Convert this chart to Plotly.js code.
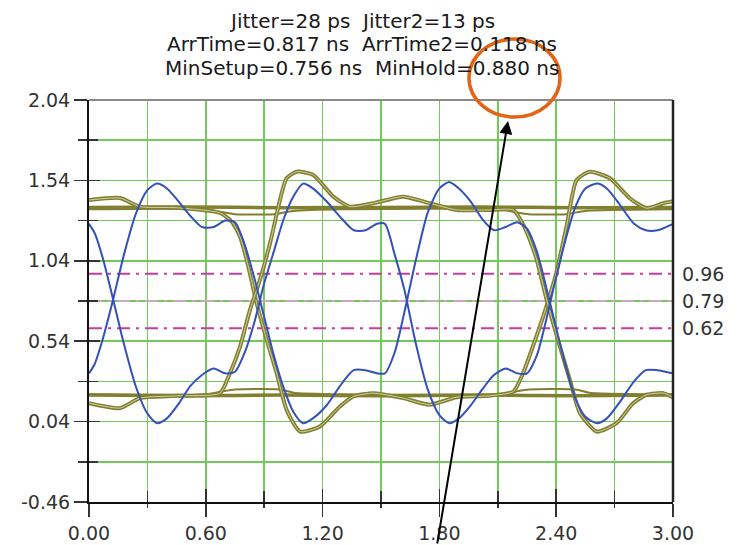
<!DOCTYPE html>
<html>
<head>
<meta charset="utf-8">
<script src="https://cdn.plot.ly/plotly-3.0.1.min.js"></script>
<style>html,body{margin:0;padding:0;background:#fff;}#chart{width:738px;height:545px;}</style>
</head>
<body>
<div id="chart"></div>
<script>
// ---------- data ----------
var titleLines = ['Jitter=28 ps \u00a0Jitter2=13 ps',
                  'ArrTime=0.817 ns \u00a0ArrTime2=0.118 ns',
                  'MinSetup=0.756 ns \u00a0MinHold=0.880 ns'];

var xTickVals = [0, 0.6, 1.2, 1.8, 2.4, 3.0];
var xTickText = ['0.00', '0.60', '1.20', '1.80', '2.40', '3.00'];
var yTickVals = [-0.46, 0.04, 0.54, 1.04, 1.54, 2.04];
var yTickText = ['-0.46', '0.04', '0.54', '1.04', '1.54', '2.04'];

var levels = [0.96, 0.79, 0.62];
var levelText = ['0.96', '0.79', '0.62'];

var blueX = [0, 0.03, 0.07, 0.12, 0.18, 0.24, 0.30, 0.35, 0.40, 0.46,
             0.52, 0.58, 0.64, 0.70, 0.75, 0.80, 0.85, 0.90, 0.95, 1.00,
             1.05, 1.10, 1.15, 1.22, 1.30, 1.36, 1.42, 1.48, 1.52, 1.57,
             1.62, 1.68, 1.74, 1.80, 1.85, 1.90, 1.96, 2.02, 2.08, 2.14,
             2.20, 2.25, 2.30, 2.35, 2.40, 2.45, 2.50, 2.55, 2.61, 2.66,
             2.72, 2.80, 2.86, 2.92, 3.00];
var blueA = [1.27, 1.21, 1.06, 0.82, 0.52, 0.26, 0.09, 0.03, 0.06, 0.15,
             0.26, 0.33, 0.37, 0.34, 0.35, 0.47, 0.66, 0.90, 1.10, 1.30,
             1.44, 1.52, 1.49, 1.41, 1.30, 1.23, 1.23, 1.27, 1.27, 1.08,
             0.86, 0.52, 0.24, 0.08, 0.03, 0.06, 0.14, 0.24, 0.33, 0.37,
             0.34, 0.34, 0.45, 0.68, 0.94, 1.18, 1.38, 1.49, 1.52, 1.49,
             1.40, 1.27, 1.23, 1.23, 1.27];
var blueB = [0.34, 0.40, 0.55, 0.78, 1.08, 1.33, 1.48, 1.52, 1.49, 1.41,
             1.32, 1.25, 1.25, 1.29, 1.28, 1.14, 0.93, 0.69, 0.45, 0.25,
             0.10, 0.03, 0.06, 0.14, 0.28, 0.36, 0.36, 0.34, 0.34, 0.47,
             0.72, 1.05, 1.34, 1.49, 1.53, 1.49, 1.41, 1.30, 1.23, 1.25,
             1.28, 1.24, 1.10, 0.87, 0.62, 0.38, 0.18, 0.07, 0.03, 0.06,
             0.15, 0.29, 0.36, 0.36, 0.34];

var olivePX = [0, 0.16, 0.26, 0.45, 0.673, 0.733, 0.776, 0.81, 0.861, 0.913,
               0.964, 1.015, 1.084, 1.186, 1.289, 1.358, 1.46, 1.614, 1.75, 1.889,
               2.05, 2.18, 2.23, 2.28, 2.333, 2.40, 2.453, 2.505, 2.573, 2.676,
               2.778, 2.864, 2.95, 3.0];
var olivePY = [1.418, 1.43, 1.377, 1.37, 1.338, 1.284, 1.19, 1.046, 0.778, 0.548,
               0.341, 0.113, -0.022, 0.01, 0.134, 0.196, 0.217, 0.186, 0.145, 0.192,
               0.20, 0.227, 0.341, 0.507, 0.693, 0.963, 1.253, 1.543, 1.594, 1.553,
               1.429, 1.367, 1.398, 1.41];

var oliveQX = [0, 0.16, 0.262, 0.45, 0.673, 0.724, 0.776, 0.827, 0.878, 0.93,
               0.981, 1.015, 1.067, 1.152, 1.255, 1.34, 1.46, 1.614, 1.75, 1.889,
               2.05, 2.18, 2.222, 2.265, 2.30, 2.351, 2.419, 2.47, 2.522, 2.608,
               2.71, 2.796, 2.864, 2.95, 3.0];
var oliveQY = [0.155, 0.124, 0.186, 0.20, 0.217, 0.341, 0.507, 0.735, 0.921, 1.149,
               1.418, 1.553, 1.594, 1.574, 1.439, 1.377, 1.398, 1.439, 1.398, 1.356,
               1.356, 1.356, 1.284, 1.17, 1.046, 0.797, 0.507, 0.30, 0.093, -0.022,
               0.03, 0.155, 0.207, 0.217, 0.19];

var oliveTopX = [0, 0.5, 1.0, 1.5, 2.0, 2.5, 3.0];
var oliveTopY = [1.372, 1.375, 1.37, 1.372, 1.375, 1.37, 1.372];
var oliveTop2X = [0, 0.6, 0.673, 0.75, 0.95, 1.05, 1.3, 2.1, 2.18, 2.26, 2.45, 2.55, 3.0];
var oliveTop2Y = [1.36, 1.36, 1.345, 1.33, 1.33, 1.35, 1.36, 1.36, 1.345, 1.33, 1.33, 1.35, 1.36];
var oliveBotX = [0, 0.5, 1.0, 1.5, 2.0, 2.5, 3.0];
var oliveBotY = [0.205, 0.20, 0.205, 0.20, 0.205, 0.20, 0.205];
var oliveBot2X = [0, 0.6, 0.673, 0.75, 0.98, 1.05, 1.3, 2.1, 2.18, 2.26, 2.5, 2.57, 3.0];
var oliveBot2Y = [0.21, 0.21, 0.225, 0.24, 0.24, 0.22, 0.21, 0.21, 0.225, 0.24, 0.24, 0.22, 0.21];

var xRange = [0, 3];
var yRange = [-0.46, 2.04];

// ---------- styling ----------
var FONT = 'DejaVu Sans, Liberation Sans, Arial, sans-serif';
var GRID = 'rgb(115,202,90)';
var OLIVE = 'rgb(128,128,48)';
var BLUE = 'rgb(52,80,185)';
var TICKC = '#333333';

var traces = [];
levels.forEach(function (v, i) {
  traces.push({
    x: [xRange[0], xRange[1]], y: [v, v], mode: 'lines', hoverinfo: 'skip',
    line: {color: i === 1 ? 'rgb(230,160,215)' : 'rgb(200,60,160)', width: i === 1 ? 1.6 : 2,
           dash: '13px,6px,3px,6px'},
    showlegend: false
  });
});
function olive(x, y, w, hollow) {
  traces.push({x: x, y: y, mode: 'lines', line: {color: OLIVE, width: w, shape: 'spline', smoothing: 0.6},
               showlegend: false, hoverinfo: 'skip'});
  if (hollow) {
    traces.push({x: x, y: y, mode: 'lines', line: {color: 'rgba(235,235,200,0.75)', width: 1, shape: 'spline', smoothing: 0.6},
                 showlegend: false, hoverinfo: 'skip'});
  }
}
olive(oliveTopX, oliveTopY, 3.5, false);
olive(oliveTop2X, oliveTop2Y, 2, false);
olive(oliveBotX, oliveBotY, 3.5, false);
olive(oliveBot2X, oliveBot2Y, 2, false);
olive(olivePX, olivePY, 4, true);
olive(oliveQX, oliveQY, 4, true);
traces.push({x: blueX, y: blueA, mode: 'lines', line: {color: BLUE, width: 2, shape: 'spline', smoothing: 0.7}, showlegend: false, hoverinfo: 'skip'});
traces.push({x: blueX, y: blueB, mode: 'lines', line: {color: BLUE, width: 2, shape: 'spline', smoothing: 0.7}, showlegend: false, hoverinfo: 'skip'});
traces.push({x: [null], y: [null], xaxis: 'x2', yaxis: 'y2', mode: 'lines', showlegend: false, hoverinfo: 'skip'});

var L = 89, R = 65, T = 100, B = 43;
var W = 738, H = 545;
var pw = W - L - R, ph = H - T - B;
function px2paperX(p) { return (p - L) / pw; }
function py2paperY(p) { return (H - B - p) / ph; }

var annotations = [];
var titleY = [20.5, 44, 68];
titleLines.forEach(function (t, i) {
  annotations.push({text: t, xref: 'paper', yref: 'paper', x: px2paperX(362), y: py2paperY(titleY[i]),
    xanchor: 'center', yanchor: 'middle', showarrow: false, font: {family: FONT, size: 20, color: '#1a1a1a'}});
});
levels.forEach(function (v, i) {
  annotations.push({text: levelText[i], xref: 'paper', yref: 'y', x: 1, y: v, xanchor: 'left', yanchor: 'middle',
    xshift: 7, showarrow: false, font: {family: FONT, size: 19, color: TICKC}});
});
annotations.push({text: '', xref: 'paper', yref: 'paper', x: px2paperX(508), y: py2paperY(121),
  axref: 'pixel', ayref: 'pixel', ax: -71, ay: 424, showarrow: true, arrowhead: 2, arrowsize: 1.3,
  arrowwidth: 2, arrowcolor: '#000', standoff: 0});

var tickFont = {family: FONT, size: 19, color: TICKC};

var layout = {
  width: W, height: H,
  margin: {l: L, r: R, t: T, b: B, pad: 0},
  paper_bgcolor: '#fff', plot_bgcolor: '#fff',
  showlegend: false,
  xaxis: {
    range: xRange, tickmode: 'array', tickvals: xTickVals, ticktext: xTickText,
    ticks: 'outside', ticklen: 13, tickwidth: 1.5, tickcolor: TICKC, ticklabelstandoff: 0,
    showline: true, linecolor: '#111', linewidth: 2,
    showgrid: true, gridcolor: GRID, gridwidth: 1.5, zeroline: false,
    minor: {tickmode: 'linear', tick0: 0, dtick: 0.3, ticks: 'outside', ticklen: 4, tickwidth: 1.5, tickcolor: TICKC,
            showgrid: true, gridcolor: GRID, gridwidth: 1.5},
    tickfont: tickFont, fixedrange: true
  },
  yaxis: {
    range: yRange, tickmode: 'array', tickvals: yTickVals, ticktext: yTickText,
    ticks: 'outside', ticklen: 13, tickwidth: 1.5, tickcolor: TICKC,
    showline: true, linecolor: '#111', linewidth: 2,
    showgrid: true, gridcolor: GRID, gridwidth: 1.5, zeroline: false,
    minor: {tickmode: 'linear', tick0: 0.04, dtick: 0.25, ticks: 'outside', ticklen: 9, tickwidth: 1.5, tickcolor: TICKC,
            showgrid: true, gridcolor: GRID, gridwidth: 1.5},
    tickfont: tickFont, fixedrange: true
  },
  xaxis2: {
    overlaying: 'x', anchor: 'y2', side: 'bottom', range: xRange,
    tickmode: 'array', tickvals: xTickVals, showticklabels: false,
    ticks: 'inside', ticklen: 13, tickwidth: 1.5, tickcolor: TICKC,
    showline: false, showgrid: false, zeroline: false,
    minor: {tickmode: 'linear', tick0: 0, dtick: 0.3, ticks: 'inside', ticklen: 11, tickwidth: 1.5, tickcolor: TICKC, showgrid: false},
    fixedrange: true
  },
  yaxis2: {
    overlaying: 'y', anchor: 'x2', side: 'left', range: yRange,
    tickmode: 'array', tickvals: yTickVals, showticklabels: false,
    ticks: 'inside', ticklen: 11, tickwidth: 1.5, tickcolor: TICKC,
    showline: false, showgrid: false, zeroline: false,
    minor: {tickmode: 'linear', tick0: 0.04, dtick: 0.25, ticks: 'inside', ticklen: 9, tickwidth: 1.5, tickcolor: TICKC, showgrid: false},
    fixedrange: true
  },
  shapes: [
    {type: 'line', xref: 'paper', yref: 'paper', x0: 0, x1: 1, y0: 1, y1: 1, line: {color: '#8a8a8a', width: 2}, layer: 'above'},
    {type: 'line', xref: 'paper', yref: 'paper', x0: 1, x1: 1, y0: 0, y1: 1, line: {color: '#222', width: 2.5}, layer: 'above'},
    {type: 'circle', xref: 'paper', yref: 'paper',
     x0: px2paperX(469), x1: px2paperX(560), y0: py2paperY(117), y1: py2paperY(39),
     line: {color: 'rgb(226,100,20)', width: 3.5}, layer: 'above'}
  ],
  annotations: annotations
};

Plotly.newPlot('chart', traces, layout, {displayModeBar: false, staticPlot: true});
</script>
</body>
</html>
